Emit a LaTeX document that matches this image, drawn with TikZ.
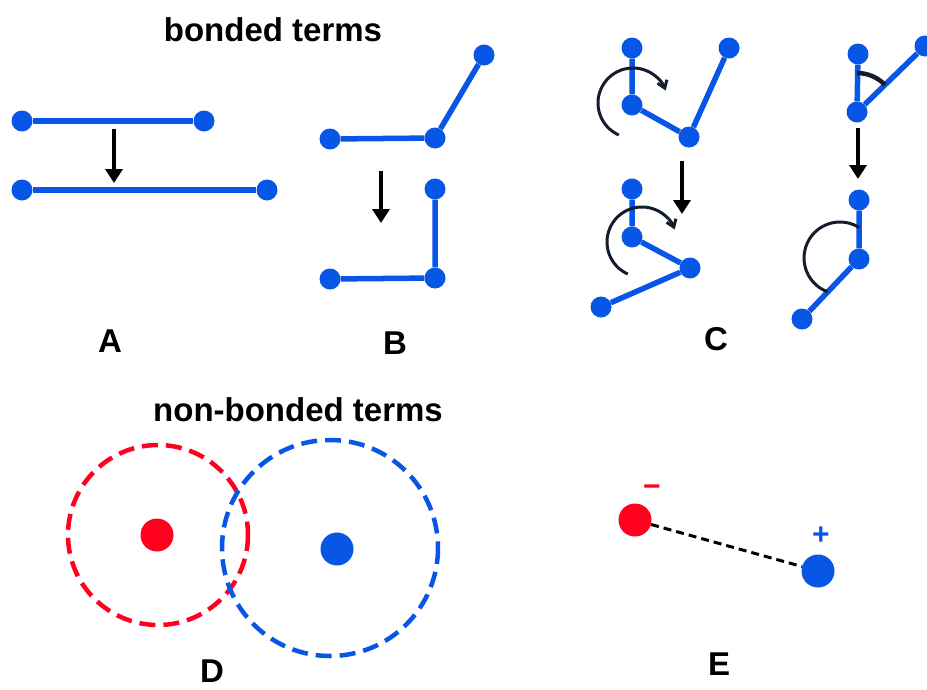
\documentclass[tikz,border=0pt]{standalone}
\usepackage{fontspec}
\setmainfont{Liberation Sans}
\usetikzlibrary{arrows.meta}
\definecolor{mblue}{RGB}{8,86,230}
\definecolor{mred}{RGB}{255,0,30}
\definecolor{arcc}{RGB}{20,28,45}
\begin{document}
\begin{tikzpicture}[x=1pt,y=-1pt,
  atom/.style={circle,fill=mblue,inner sep=0pt,minimum size=21pt},
  bigatom/.style={circle,fill=#1,inner sep=0pt,minimum size=33pt},
  bond/.style={mblue,line width=5.5pt},
  move/.style={line width=4.5pt,-{Triangle[width=17pt,length=14pt]}},
  lbl/.style={font=\fontsize{33}{39}\selectfont\bfseries},
  sgn/.style={font=\fontsize{30}{36}\selectfont\bfseries,inner sep=0pt},
  twist/.style={arcc,line width=3pt,-{Straight Barb[length=7pt,width=10pt]}},
  ring/.style={line width=4.5pt,dash pattern=on 16pt off 8pt}
]
\useasboundingbox (0,0) rectangle (927,689);
\clip (0,0) rectangle (927,689);

% titles
\node[lbl] (t1) at (273,30) {bonded terms};
\node[lbl] (t2) at (298,410) {non-bonded terms};

% ---------- A ----------
\node[atom] (a1) at (22,121) {};
\node[atom] (a2) at (204,121) {};
\node[atom] (a3) at (22,190) {};
\node[atom] (a4) at (267,190) {};
\draw[bond] (a1) -- (a2);
\draw[bond] (a3) -- (a4);
\coordinate (as) at (114,129);
\coordinate (ae) at (114,183);
\draw[move] (as) -- (ae);
\node[lbl] (lA) at (110,341) {A};

% ---------- B ----------
\node[atom] (b1) at (330,139) {};
\node[atom] (b2) at (435,138) {};
\node[atom] (b3) at (484,55) {};
\draw[bond] (b1) -- (b2) -- (b3);
\node[atom] (b4) at (435,189) {};
\node[atom] (b5) at (435,278) {};
\node[atom] (b6) at (330,279) {};
\draw[bond] (b4) -- (b5) -- (b6);
\coordinate (bs) at (381,171);
\coordinate (be) at (381,223);
\draw[move] (bs) -- (be);
\node[lbl] (lB) at (395,343) {B};

% ---------- C (torsion) ----------
\node[atom] (c1) at (632,48) {};
\node[atom] (c2) at (632,105) {};
\node[atom] (c3) at (689,137) {};
\node[atom] (c4) at (729,48) {};
\draw[bond] (c1) -- (c2) -- (c3) -- (c4);
\draw[twist] (633,103) ++(114:35) arc[start angle=114,end angle=339,radius=35];
\coordinate (cs) at (682,161);
\coordinate (ce) at (682,214);
\draw[move] (cs) -- (ce);
\node[atom] (c5) at (632,189) {};
\node[atom] (c6) at (632,237) {};
\node[atom] (c7) at (690,268) {};
\node[atom] (c8) at (601,307) {};
\draw[bond] (c5) -- (c6) -- (c7) -- (c8);
\draw[twist] (642,242) ++(114:35) arc[start angle=114,end angle=339,radius=35];

% ---------- C (angle) ----------
\node[atom] (d1) at (858,54) {};
\node[atom] (d2) at (857,112) {};
\node[atom] (d3) at (925,46) {};
\draw[bond] (d1) -- (d2) -- (d3);
\draw[arcc,line width=4.5pt] (857,112) ++(-90:39) arc[start angle=-90,end angle=-44,radius=39];
\coordinate (ds) at (858,128);
\coordinate (de) at (858,179);
\draw[move] (ds) -- (de);
\node[atom] (d4) at (859,200) {};
\node[atom] (d5) at (859,259) {};
\node[atom] (d6) at (802,319) {};
\draw[bond] (d4) -- (d5) -- (d6);
\draw[arcc,line width=3pt] (840,258) ++(-57.7:36) arc[start angle=-57.7,end angle=-249.4,radius=36];
\node[lbl] (lC) at (716,339) {C};

% ---------- D ----------
\draw[mred,ring] (158,535) circle[radius=90];
\draw[mblue,ring] (330,548) circle[radius=108];
\node[bigatom=mred] (r1) at (157,535) {};
\node[bigatom=mblue] (u1) at (337,549) {};
\node[lbl] (lD) at (212,671) {D};

% ---------- E ----------
\node[bigatom=mred] (r2) at (635,520) {};
\node[bigatom=mblue] (u2) at (818,571) {};
\draw[black,line width=3pt,dash pattern=on 8pt off 5pt] (r2) -- (u2);
\node[sgn,text=mred] (mn) at (652,491) {−};
\node[sgn,text=mblue] (pl) at (821,536) {+};
\node[lbl] (lE) at (719,664) {E};
\end{tikzpicture}
\end{document}
